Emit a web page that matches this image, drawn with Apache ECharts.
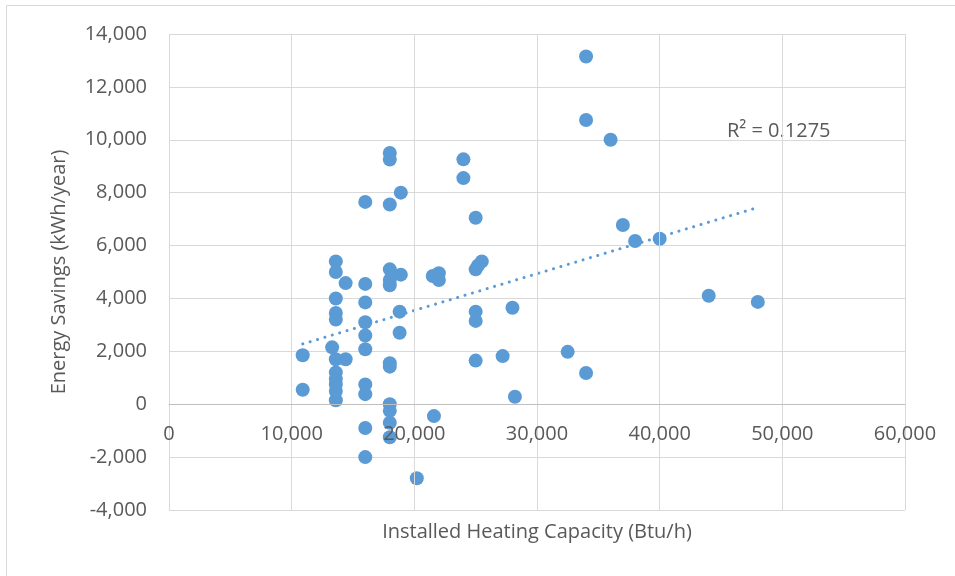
<!DOCTYPE html>
<html>
<head>
<meta charset="utf-8">
<script src="https://cdn.jsdelivr.net/npm/echarts@6/dist/echarts.min.js"></script>
<style>
  html, body { margin: 0; padding: 0; background: #fff; }
  #chart { width: 955px; height: 576px; }
</style>
</head>
<body>
<div id="chart"></div>
<script>
// installed heating capacity (Btu/h)
const capacity = [
  10900, 10900,
  13600, 13600, 14400, 13600, 13600, 13600, 13300, 13600, 14400, 13600, 13600, 13600, 13600, 13600,
  16000, 16000, 16000, 16000, 16000, 16000, 16000, 16000, 16000, 16000,
  18000, 18000, 18900, 18000, 18000, 18000, 18000, 18900, 18800, 18800, 18000, 18000, 18000, 18000, 18000, 18000,
  20200, 21600,
  21500, 22000, 22000,
  24000, 24000, 25000, 25500, 25200, 25000, 25000, 25000, 25000,
  27200, 28000, 28200,
  32500, 34000, 34000, 34000, 36000, 37000, 38000, 40000, 44000, 48000
]
// energy savings (kWh/year)
const savings = [
  1850, 550,
  5400, 5000, 4580, 4000, 3450, 3200, 2150, 1700, 1700, 1200, 950, 750, 500, 150,
  7650, 4550, 3850, 3100, 2600, 2080, 750, 380, -900, -2000,
  9500, 9250, 8000, 7550, 5100, 4700, 4500, 4900, 3500, 2700, 1550, 1420, 0, -250, -700, -1250,
  -2800, -450,
  4850, 4950, 4700,
  9260, 8550, 7050, 5400, 5250, 5100, 3500, 3150, 1650,
  1820, 3650, 280,
  1980, 13150, 10750, 1180, 10000, 6780, 6170, 6260, 4100, 3870
]
// 趋势线两端
const trendX = [10900, 48000]
const trendY = [2280, 7440]
const xTicks = { min: 0, max: 60000, interval: 10000 }
const yTicks = { min: -4000, max: 14000, interval: 2000 }
const r2Label = 'R² = 0.1275'

const points = capacity.map((x, i) => [x, savings[i]])
const trend = trendX.map((x, i) => [x, trendY[i]])

const textColor = '#595959'
const font = 'Open Sans'
const fmt = v => v.toLocaleString('en-US')

const myChart = echarts.init(document.getElementById('chart'))
const option = {
  animation: false,
  grid: { left: 169, right: 50, top: 34, bottom: 66, containLabel: false, outerBoundsMode: 'none' },
  graphic: [
    {
      type: 'rect',
      shape: { x: 6.5, y: 5.5, width: 1000, height: 1000 },
      style: { fill: 'none', stroke: '#d9d9d9', lineWidth: 1 },
      silent: true
    },
    {
      type: 'text',
      left: 727,
      top: 121,
      style: { text: r2Label, fill: textColor, font: '20px "Open Sans"' }
    },
    {
      type: 'text',
      x: 537,
      y: 522,
      style: { text: 'Installed Heating Capacity (Btu/h)', fill: textColor, font: '20px "Open Sans"', align: 'center' }
    }
  ],
  xAxis: {
    type: 'value',
    min: xTicks.min,
    max: xTicks.max,
    interval: xTicks.interval,
    // 坐标轴移到 y=0 处（-4000 到 0 共 105.7px）
    offset: -105.7,
    z: 5,
    axisLine: { show: true, onZero: false, lineStyle: { color: '#bfbfbf', width: 1 } },
    axisTick: { show: false },
    axisLabel: { color: textColor, fontSize: 20, fontFamily: font, margin: 20, formatter: fmt },
    splitLine: { lineStyle: { color: '#d9d9d9', width: 1 } }
  },
  yAxis: {
    type: 'value',
    min: yTicks.min,
    max: yTicks.max,
    interval: yTicks.interval,
    name: 'Energy Savings (kWh/year)',
    nameLocation: 'middle',
    nameGap: 100,
    nameTextStyle: { color: textColor, fontSize: 20, fontFamily: font },
    axisLine: { show: false },
    axisTick: { show: false },
    axisLabel: { color: textColor, fontSize: 20, fontFamily: font, margin: 22, formatter: fmt },
    splitLine: { lineStyle: { color: '#d9d9d9', width: 1 } }
  },
  series: [
    {
      type: 'line',
      data: trend,
      symbol: 'none',
      z: 2,
      lineStyle: { color: '#5b9bd5', width: 3, type: [0.1, 7.6], cap: 'round' }
    },
    {
      type: 'scatter',
      data: points,
      symbol: 'circle',
      symbolSize: 14,
      z: 3,
      itemStyle: { color: '#5b9bd5', opacity: 1 }
    }
  ]
}
myChart.setOption(option)
</script>
</body>
</html>
